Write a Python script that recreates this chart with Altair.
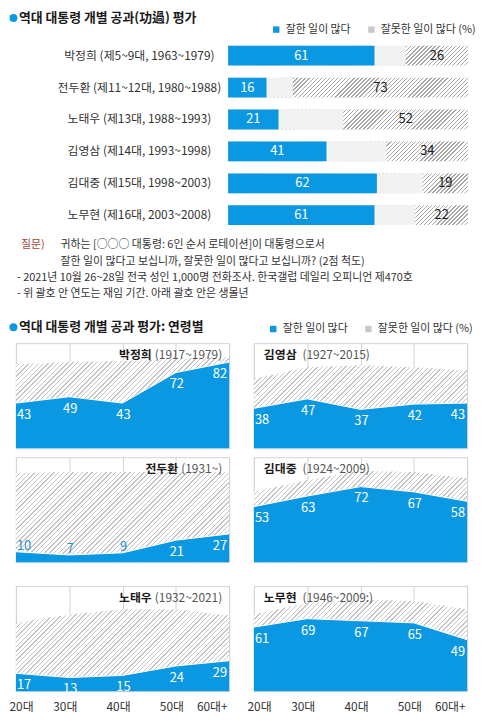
import json
import altair as alt
import pandas as pd

FONT = "Noto Sans CJK KR"
BLUE = "#0b98e3"
SMALL_LABEL_BLUE = "#2f8fd3"
INK = "#1a1a1a"
TEXT = "#333333"
YEARS_GREY = "#555555"
FRAME = "#d3d3d3"
GAP_GREY = "#f2f2f2"
LEGEND_HATCH = "#c9c9c9"
Q_RED = "#a0463c"

# ---------------- data ----------------
TITLE1 = "역대 대통령 개별 공과(功過) 평가"
TITLE2 = "역대 대통령 개별 공과 평가: 연령별"
LEG_GOOD = "잘한 일이 많다"
LEG_BAD = "잘못한 일이 많다 (%)"

presidents = [
    "박정희 (제5~9대, 1963~1979)",
    "전두환 (제11~12대, 1980~1988)",
    "노태우 (제13대, 1988~1993)",
    "김영삼 (제14대, 1993~1998)",
    "김대중 (제15대, 1998~2003)",
    "노무현 (제16대, 2003~2008)",
]
overall_good = [61, 16, 21, 41, 62, 61]
overall_bad = [26, 73, 52, 34, 19, 22]

note_label = "질문)"
note_question = [
    "귀하는 [○○○ 대통령: 6인 순서 로테이션]이 대통령으로서",
    "잘한 일이 많다고 보십니까, 잘못한 일이 많다고 보십니까? (2점 척도)",
]
note_lines = [
    "- 2021년 10월 26~28일 전국 성인 1,000명 전화조사. 한국갤럽 데일리 오피니언 제470호",
    "- 위 괄호 안 연도는 재임 기간. 아래 괄호 안은 생몰년",
]

ages = ["20대", "30대", "40대", "50대", "60대+"]

park_good = [43, 49, 43, 72, 82]
park_bad = [37, 33, 40, 13, 5]
chun_good = [10, 7, 9, 21, 27]
chun_bad = [75, 79, 77, 65, 59]
rtw_good = [17, 13, 15, 24, 29]
rtw_bad = [48, 60, 63, 54, 43]
kys_good = [38, 47, 37, 42, 43]
kys_bad = [28, 30, 42, 35, 31]
kdj_good = [53, 63, 72, 67, 58]
kdj_bad = [14, 15, 15, 19, 22]
rmh_good = [61, 69, 67, 65, 49]
rmh_bad = [12, 15, 20, 21, 29]

panel_names = ["박정희", "전두환", "노태우", "김영삼", "김대중", "노무현"]
panel_years = ["(1917~1979)", "(1931~)", "(1932~2021)", "(1927~2015)", "(1924~2009)", "(1946~2009:)"]


# ---------------- helpers ----------------
def hatch(w, h, line, frac, n=64, bg="#ffffff"):
    """Diagonal '/' stripes (n of them across the shape) as a linear gradient in bbox units."""
    r = h / w
    k = (1 + r) / (1 + r * r)
    stops = []
    for i in range(n):
        a = i / n
        b = (i + frac) / n
        c = (i + 1) / n
        stops += [
            {"offset": round(a, 6), "color": line},
            {"offset": round(b, 6), "color": line},
            {"offset": round(b, 6), "color": bg},
            {"offset": round(c, 6), "color": bg},
        ]
    return {"gradient": "linear", "x1": 0, "y1": 0, "x2": round(k, 6), "y2": round(k * r, 6), "stops": stops}


def text_w(s, fs):
    tot = 0.0
    for ch in s:
        if ch.isdigit():
            tot += 0.555
        elif ch in "()":
            tot += 0.333
        elif ch == "~":
            tot += 0.56
        elif ch == ":":
            tot += 0.26
        else:
            tot += 1.0
    return tot * fs


def legend(x, y):
    return alt.Legend(
        orient="none", legendX=x, legendY=y, direction="horizontal", title=None,
        symbolType="square", symbolSize=42, symbolStrokeWidth=0,
        labelFontSize=11, labelFont=FONT, labelColor=TEXT,
        columnPadding=15, labelOffset=4,
    )


def one_text(txt, x, y, size, color, weight="normal"):
    return alt.Chart(pd.DataFrame({"t": [txt]})).mark_text(
        align="left", baseline="middle", fontSize=size, font=FONT, color=color, fontWeight=weight
    ).encode(x=alt.value(x), y=alt.value(y), text="t:N")


def bullet(x, y):
    return alt.Chart(pd.DataFrame({"k": [0]})).mark_circle(size=64, color=BLUE, opacity=1).encode(
        x=alt.value(x), y=alt.value(y))


CELL_W = 215          # width of one grid column
BAR_PX = 242          # pixels spanned by 0..100 % in the top chart
BAR_X0 = 214          # pixel where 0 % sits in the top chart

# ---------------- top bar chart ----------------
BH = 193
bar_df = pd.DataFrame({"name": presidents, "good": overall_good, "bad": overall_bad})
bar_df["series"] = LEG_GOOD
ppu = BAR_PX / 100.0
xs = alt.Scale(domain=[-BAR_X0 / ppu, (CELL_W - BAR_X0) / ppu], nice=False, zero=False)
y_enc = alt.Y(
    "name:N", sort=presidents, title=None,
    scale=alt.Scale(paddingInner=0.38, paddingOuter=0.19),
    axis=alt.Axis(orient="left", offset=-BAR_X0, labelAlign="center", labelPadding=90, ticks=False,
                  tickSize=0, domain=False, labelFontSize=12, labelColor=TEXT, labelFont=FONT, labelLimit=300),
)
bbase = alt.Chart(bar_df).transform_calculate(
    zero="0", full="100",
    gap_end="100 - datum.bad", bad_mid="100 - datum.bad / 2", good_mid="datum.good / 2"
)
band_h = BH / 6 * (1 - 0.38)
hatch_bar = bbase.mark_bar(fill=hatch(BAR_PX, band_h, "#a8a8a8", 0.34)).encode(
    x=alt.X("zero:Q", scale=xs, axis=None), x2="full:Q", y=y_enc
)
gap_bar = bbase.mark_bar(fill=GAP_GREY).encode(
    x=alt.X("zero:Q", scale=xs, axis=None), x2="gap_end:Q", y=y_enc
)
good_bar = bbase.mark_bar().encode(
    x=alt.X("zero:Q", scale=xs, axis=None), x2="good:Q", y=y_enc,
    color=alt.Color("series:N", scale=alt.Scale(domain=[LEG_GOOD, LEG_BAD], range=[BLUE, LEGEND_HATCH]),
                    legend=legend(257, -16)),
)
good_txt = bbase.mark_text(color="white", fontSize=13, font=FONT).encode(
    x=alt.X("good_mid:Q", scale=xs, axis=None), y=y_enc, text="good:Q"
)
bad_txt = bbase.mark_text(color="#222222", fontSize=13, font=FONT).encode(
    x=alt.X("bad_mid:Q", scale=xs, axis=None), y=y_enc, text="bad:Q"
)
top_chart = alt.layer(
    hatch_bar, gap_bar, good_bar, good_txt, bad_txt,
    bullet(-2.5, -22), one_text(TITLE1, 3, -22, 13, INK, "bold"),
).properties(width=CELL_W, height=BH)

# ---------------- notes (+ second heading) ----------------
NH = 95
notes_chart = alt.layer(
    one_text(note_label, 5, 5.5, 11, Q_RED),
    one_text(note_question[0], 45, 5.5, 11, TEXT),
    one_text(note_question[1], 45, 21.8, 11, TEXT),
    one_text(note_lines[0], 1, 38.1, 11, TEXT),
    one_text(note_lines[1], 1, 54.4, 11, TEXT),
    bullet(-2.5, 88),
    one_text(TITLE2, 3, 88, 13, INK, "bold"),
).properties(width=CELL_W, height=NH)

# ---------------- age panels ----------------
PH = 106
label_expr = json.dumps(ages, ensure_ascii=False) + "[datum.value]"


def panel(name, years, good, bad, col, bottom, with_legend=False):
    total = [g + b for g, b in zip(good, bad)]
    df = pd.DataFrame({"i": list(range(5)), "good": good, "total": total})
    df["series"] = LEG_GOOD
    df["pos"] = ["first", "mid", "mid", "mid", "last"]
    df["big"] = df["good"] >= 12
    px = alt.Scale(domain=[0, 4], nice=False, zero=False)
    py = alt.Scale(domain=[0, 100], nice=False)
    ax = dict(values=[0, 1, 2, 3, 4], grid=True, gridColor=FRAME, gridWidth=1, ticks=False, tickSize=0,
              domain=False, title=None, labels=bottom)
    if bottom:
        ax.update(labelExpr=label_expr, labelFont=FONT, labelFontSize=12, labelColor=TEXT,
                  labelPadding=10, labelFlush=True, labelFlushOffset=2.5, labelOffset=-4.5)
    x = alt.X("i:Q", scale=px, axis=alt.Axis(**ax))
    base = alt.Chart(df)
    layers = [base.mark_area(fill=hatch(CELL_W, PH * max(total) / 100, "#c6c6c6", 0.3)).encode(
        x=x, y=alt.Y("total:Q", scale=py, axis=None))]
    if with_legend:
        blue = base.mark_area().encode(
            x=x, y=alt.Y("good:Q", scale=py, axis=None),
            color=alt.Color("series:N", scale=alt.Scale(domain=[LEG_GOOD, LEG_BAD], range=[BLUE, LEGEND_HATCH]),
                            legend=legend(14, -20)))
    else:
        blue = base.mark_area(fill=BLUE).encode(x=x, y=alt.Y("good:Q", scale=py, axis=None))
    layers.append(blue)
    layers.append(base.mark_line(color="white", strokeWidth=1).encode(
        x=x, y=alt.Y("good:Q", scale=py, axis=None)))
    for pos, align, dx in (("first", "left", 1), ("mid", "center", 1), ("last", "right", -2)):
        for big in (True, False):
            sub = df[(df.pos == pos) & (df.big == big)]
            if len(sub) == 0:
                continue
            layers.append(alt.Chart(sub).mark_text(
                align=align, baseline="middle", dx=dx, dy=12 if big else -6, fontSize=13, font=FONT,
                color="white" if big else SMALL_LABEL_BLUE,
            ).encode(x=x, y=alt.Y("good:Q", scale=py, axis=None), text="good:Q"))
    tbase = alt.Chart(pd.DataFrame({"name": [name], "years": [years]})).transform_calculate(
        left="0", right="4", top="100"
    )
    ty = alt.Y("top:Q", scale=py, axis=None)
    if col == 0:
        yw = text_w(years, 12)
        layers.append(tbase.mark_text(align="right", baseline="middle", dx=-7, dy=12, fontSize=12,
                                      font=FONT, color=YEARS_GREY).encode(
            x=alt.X("right:Q", scale=px), y=ty, text="years:N"))
        layers.append(tbase.mark_text(align="right", baseline="middle", dx=-7 - yw - 3, dy=12,
                                      fontSize=12, fontWeight="bold", font=FONT, color=INK).encode(
            x=alt.X("right:Q", scale=px), y=ty, text="name:N"))
    else:
        nw = text_w(name, 12)
        layers.append(tbase.mark_text(align="left", baseline="middle", dx=10, dy=12, fontSize=12,
                                      fontWeight="bold", font=FONT, color=INK).encode(
            x=alt.X("left:Q", scale=px), y=ty, text="name:N"))
        layers.append(tbase.mark_text(align="left", baseline="middle", dx=10 + nw + 3, dy=12,
                                      fontSize=12, font=FONT, color=YEARS_GREY).encode(
            x=alt.X("left:Q", scale=px), y=ty, text="years:N"))
    return alt.layer(*layers).properties(
        width=CELL_W, height=PH, view=alt.ViewBackground(stroke=FRAME, strokeWidth=1)
    )


def filler(h):
    return alt.Chart(pd.DataFrame({"t": [""]})).mark_text().encode(text="t:N").properties(width=CELL_W, height=h)


p_park = panel(panel_names[0], panel_years[0], park_good, park_bad, 0, False)
p_chun = panel(panel_names[1], panel_years[1], chun_good, chun_bad, 0, False)
p_rtw = panel(panel_names[2], panel_years[2], rtw_good, rtw_bad, 0, True)
p_kys = panel(panel_names[3], panel_years[3], kys_good, kys_bad, 1, False, with_legend=True)
p_kdj = panel(panel_names[4], panel_years[4], kdj_good, kdj_bad, 1, False)
p_rmh = panel(panel_names[5], panel_years[5], rmh_good, rmh_bad, 1, True)

chart = alt.concat(
    top_chart, filler(BH),
    notes_chart, filler(NH),
    p_park, p_kys,
    p_chun, p_kdj,
    filler(6), filler(6),
    p_rtw, p_rmh,
    columns=2, spacing={"row": 9, "column": 25}, bounds="flush", align="each",
).resolve_scale(color="independent").properties(
    padding={"left": 0, "top": 1, "right": 0, "bottom": 0}, background="white"
).configure(font=FONT).configure_view(strokeWidth=0)

chart.save("out.html", embed_options={"renderer": "svg", "actions": False})
